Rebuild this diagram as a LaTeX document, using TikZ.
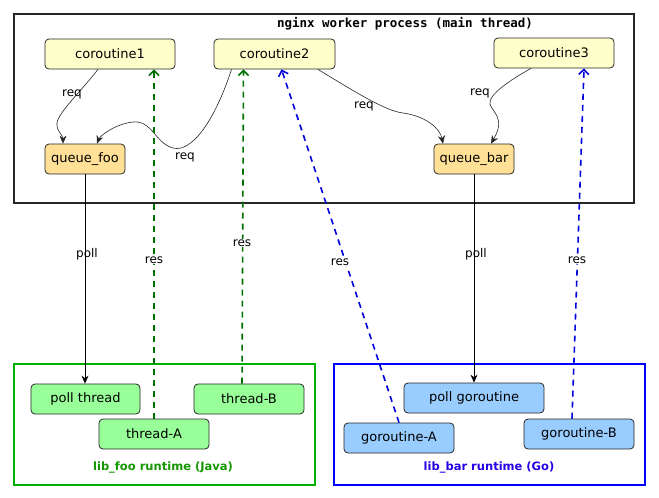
\documentclass[tikz,border=0pt]{standalone}
\usepackage{fontspec}
\setmainfont{DejaVu Sans}
\newfontfamily\monofont{DejaVu Sans Mono}
\usetikzlibrary{arrows.meta}
\definecolor{coroyellow}{RGB}{255,255,204}
\definecolor{queueorange}{RGB}{255,224,150}
\definecolor{javagreen}{RGB}{153,255,153}
\definecolor{gocyan}{RGB}{153,204,255}
\definecolor{boxgreen}{RGB}{0,176,0}
\definecolor{boxblue}{RGB}{0,0,255}
\definecolor{resgreen}{RGB}{0,112,0}
\definecolor{resblue}{RGB}{0,0,220}
\definecolor{javatext}{RGB}{20,150,0}
\definecolor{gotext}{RGB}{40,0,230}

\begin{document}
\begin{tikzpicture}[x=1pt,y=-1pt,
    box/.style={draw=black!85, line width=0.8pt, rounded corners=4pt,
      minimum height=30pt, inner sep=0pt, font=\fontsize{13}{15}\selectfont},
    corobox/.style={box, fill=coroyellow},
    queuebox/.style={box, fill=queueorange},
    javabox/.style={box, fill=javagreen},
    gobox/.style={box, fill=gocyan},
    lbl/.style={font=\fontsize{12}{14}\selectfont, inner sep=1pt},
    reqline/.style={draw=black!85, line width=0.6pt, -{Stealth[length=8pt,width=7pt]}},
    pollline/.style={draw=black, line width=0.8pt, -{Stealth[length=8pt,width=7pt]}},
    resline/.style={dashed, dash pattern=on 6pt off 5pt, line width=1.6pt,
      -{Straight Barb[length=5pt,width=10pt]}}]
  \useasboundingbox (0,0) rectangle (659,498);

  % nginx worker
  \draw[line width=2pt, black!85] (14,14) rectangle (634,203);
  \node[font=\monofont\bfseries\fontsize{12.5}{14}\selectfont] (title) at (405,24) {nginx worker process (main thread)};

  \node[corobox, minimum width=130pt] (c1) at (110,54) {coroutine1};
  \node[corobox, minimum width=121pt] (c2) at (274.5,54) {coroutine2};
  \node[corobox, minimum width=120pt] (c3) at (554,53) {coroutine3};
  \node[queuebox, minimum width=80pt] (qfoo) at (85,159) {queue\_foo};
  \node[queuebox, minimum width=80pt] (qbar) at (474,159) {queue\_bar};

  % runtimes
  \draw[line width=2pt, boxgreen] (14,364) rectangle (315,485);
  \draw[line width=2pt, boxblue] (334,364) rectangle (645,485);

  \node[javabox, minimum width=109pt] (pt) at (85.5,399) {poll thread};
  \node[javabox, minimum width=110pt] (tb) at (249,399) {thread-B};
  \node[javabox, minimum width=110pt] (ta) at (154,434) {thread-A};
  \node[font=\bfseries\fontsize{11.5}{13}\selectfont, text=javatext] (foort) at (163,467) {lib\_foo runtime (Java)};

  \node[gobox, minimum width=140pt] (pg) at (474,398) {poll goroutine};
  \node[gobox, minimum width=110pt] (ga) at (399,438) {goroutine-A};
  \node[gobox, minimum width=110pt] (gb) at (579,434) {goroutine-B};
  \node[font=\bfseries\fontsize{11.5}{13}\selectfont, text=gotext] (barrt) at (489,467) {lib\_bar runtime (Go)};

  % requests
  \draw[reqline] ([xshift=-12pt]c1.south) .. controls (82,90) and (58,113) .. (57,123)
    .. controls (56,131) and (63,135) .. ([xshift=-22pt]qfoo.north);
  \draw[reqline] ([xshift=-43pt]c2.south) .. controls (215,120) and (192,153) .. (173,148)
    .. controls (155,143) and (152,120) .. (133,122)
    .. controls (115,124) and (100,136) .. ([xshift=12pt]qfoo.north);
  \draw[reqline] ([xshift=43.5pt]c2.south) .. controls (352,90) and (385,111) .. (403,113)
    .. controls (425,116) and (440,128) .. ([xshift=-31pt]qbar.north);
  \draw[reqline] ([xshift=-23pt]c3.south) .. controls (510,80) and (488,95) .. (490,104)
    .. controls (492,112) and (506,118) .. ([xshift=17pt]qbar.north);
  \node[lbl] (req1) at (72,94) {req};
  \node[lbl] (req2) at (185,157) {req};
  \node[lbl] (req3) at (364,106) {req};
  \node[lbl] (req4) at (480,93) {req};

  % polling
  \draw[pollline] (qfoo.south) -- (qfoo.south |- pt.north);
  \draw[pollline] (qbar.south) -- (qbar.south |- pg.north);
  \node[lbl] (poll1) at (87,254) {poll};
  \node[lbl] (poll2) at (476,254) {poll};

  % responses
  \draw[resline, resgreen] (ta.north) -- (ta.north |- c1.south);
  \draw[resline, resgreen] ([xshift=-7pt]tb.north) -- ([xshift=-31pt]c2.south);
  \draw[resline, resblue] (ga.north) -- ([xshift=7pt]c2.south);
  \draw[resline, resblue] ([xshift=-7pt]gb.north) -- ([xshift=30pt]c3.south);
  \node[lbl, fill=white] (res1) at (154,260) {res};
  \node[lbl, fill=white] (res2) at (242,243) {res};
  \node[lbl, fill=white] (res3) at (340,262) {res};
  \node[lbl, fill=white] (res4) at (577,260) {res};
\end{tikzpicture}
\end{document}
